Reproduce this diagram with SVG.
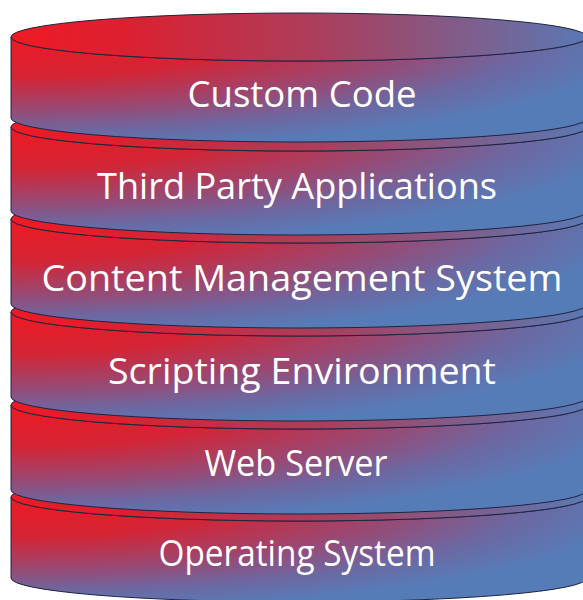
<svg xmlns="http://www.w3.org/2000/svg" width="583" height="600" viewBox="0 0 583 600">
  <defs>
    <radialGradient id="bodyGrad" gradientUnits="objectBoundingBox" cx="0" cy="0" fx="0" fy="0" r="1.1">
      <stop offset="0" stop-color="#ee1a24"/>
      <stop offset="0.35" stop-color="#d42434"/>
      <stop offset="0.62" stop-color="#9a4872"/>
      <stop offset="0.82" stop-color="#6c68a2"/>
      <stop offset="1" stop-color="#567cb8"/>
    </radialGradient>
    <linearGradient id="topGrad" gradientUnits="objectBoundingBox" x1="0" y1="0" x2="1" y2="0">
      <stop offset="0" stop-color="#ee1a24"/>
      <stop offset="0.2" stop-color="#dc2030"/>
      <stop offset="0.55" stop-color="#a8405e"/>
      <stop offset="1" stop-color="#5a78b4"/>
    </linearGradient>
  </defs>
  <style>
    .body { fill: url(#bodyGrad); stroke: #1c2440; stroke-width: 1; }
    .top { fill: url(#topGrad); stroke: #1c2440; stroke-width: 1; }
    .label { font-family: "Open Sans", "Noto Sans", "DejaVu Sans", sans-serif; font-size: 37px; fill: #ffffff; text-anchor: middle; }
  </style>
  <g id="disk-operating-system">
    <path class="body" d="M 11 497 L 11 578 A 288 24 0 0 0 587 578 L 587 497 A 288 24 0 0 1 11 497 Z"/>
    <ellipse class="top" cx="299" cy="497" rx="288" ry="24"/>
    <text class="label" x="297" y="566" textLength="277" lengthAdjust="spacingAndGlyphs">Operating System</text>
  </g>
  <g id="disk-web-server">
    <path class="body" d="M 11 405 L 11 490 A 288 24 0 0 0 587 490 L 587 405 A 288 24 0 0 1 11 405 Z"/>
    <ellipse class="top" cx="299" cy="405" rx="288" ry="24"/>
    <text class="label" x="296" y="476" textLength="183" lengthAdjust="spacingAndGlyphs">Web Server</text>
  </g>
  <g id="disk-scripting-environment">
    <path class="body" d="M 11 312 L 11 397 A 288 24 0 0 0 587 397 L 587 312 A 288 24 0 0 1 11 312 Z"/>
    <ellipse class="top" cx="299" cy="312" rx="288" ry="24"/>
    <text class="label" x="302" y="384" textLength="388" lengthAdjust="spacingAndGlyphs">Scripting Environment</text>
  </g>
  <g id="disk-content-management-system">
    <path class="body" d="M 11 219 L 11 304 A 288 24 0 0 0 587 304 L 587 219 A 288 24 0 0 1 11 219 Z"/>
    <ellipse class="top" cx="299" cy="219" rx="288" ry="24"/>
    <text class="label" x="302" y="291" textLength="521" lengthAdjust="spacingAndGlyphs">Content Management System</text>
  </g>
  <g id="disk-third-party-applications">
    <path class="body" d="M 11 127 L 11 211 A 288 24 0 0 0 587 211 L 587 127 A 288 24 0 0 1 11 127 Z"/>
    <ellipse class="top" cx="299" cy="127" rx="288" ry="24"/>
    <text class="label" x="297" y="199" textLength="400" lengthAdjust="spacingAndGlyphs">Third Party Applications</text>
  </g>
  <g id="disk-custom-code">
    <path class="body" d="M 11 37 L 11 118 A 288 24 0 0 0 587 118 L 587 37 A 288 24 0 0 1 11 37 Z"/>
    <ellipse class="top" cx="299" cy="37" rx="288" ry="24"/>
    <text class="label" x="302" y="107" textLength="229" lengthAdjust="spacingAndGlyphs">Custom Code</text>
  </g>
  <g id="connectors"/>
</svg>
